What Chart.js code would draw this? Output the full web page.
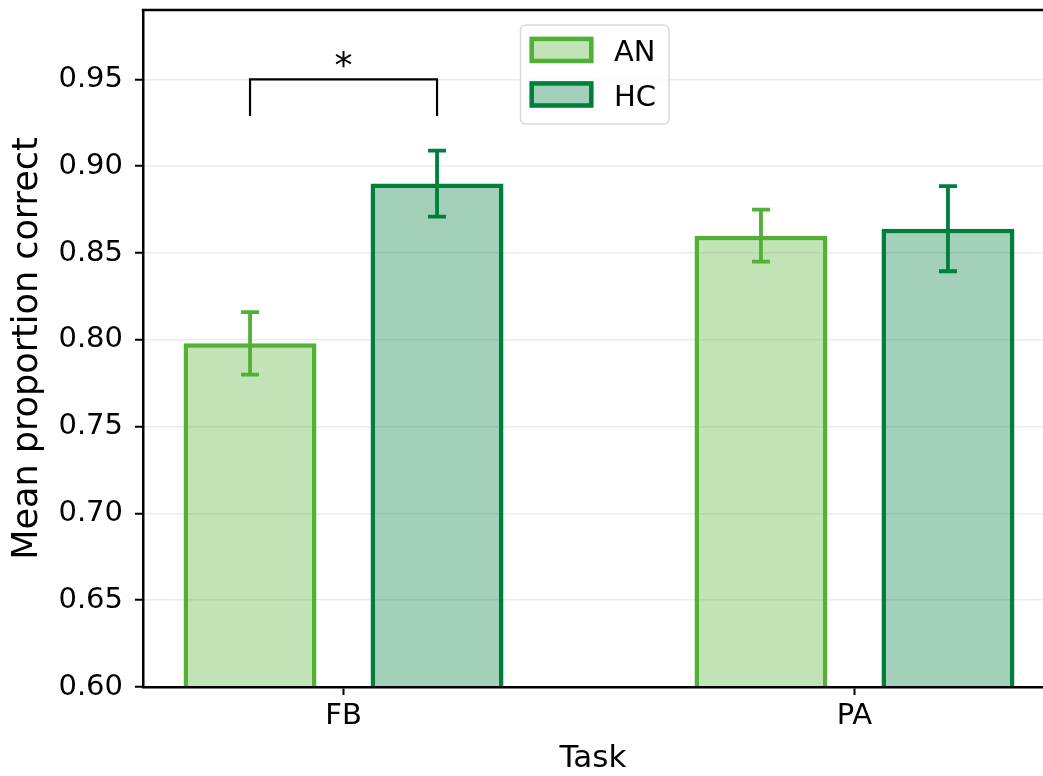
<!DOCTYPE html>
<html>
<head>
<meta charset="utf-8">
<script src="https://cdn.jsdelivr.net/npm/chart.js@4.4.1/dist/chart.umd.min.js"></script>
<style>
  html, body { margin: 0; padding: 0; background: #ffffff; overflow: hidden; }
  #wrap { width: 1043px; height: 776px; }
</style>
</head>
<body>
<div id="wrap"><canvas id="c" width="1043" height="776"></canvas></div>
<script>
// ---- Data ----
const categories = ['FB', 'PA'];
const groupNames = ['AN', 'HC'];
const anMeans  = [0.798, 0.860];
const anErrors = [0.018, 0.015];
const hcMeans  = [0.890, 0.864];
const hcErrors = [0.019, 0.0245];
const yTickValues = [0.60, 0.65, 0.70, 0.75, 0.80, 0.85, 0.90, 0.95];
const axisTitles = { x: 'Task', y: 'Mean proportion correct' };
// significance bracket (FB: AN vs HC)
const sigCategory = 0;
const sigTop = 0.95;
const sigLegBottom = 0.929;
const sigLabel = '*';

// ---- Styles ----
const FONT = 'DejaVu Sans';
const anBorder = 'rgb(82,177,52)';
const anFill = 'rgba(82,177,52,0.36)';
const hcBorder = 'rgb(0,126,60)';
const hcFill = 'rgba(0,126,60,0.365)';
const errorSets = [anErrors, hcErrors];

Chart.defaults.font.family = FONT;
Chart.defaults.color = '#000';

const toPoints = (arr) => categories.map((c, i) => ({ x: i, y: arr[i] }));

const errorBarPlugin = {
  id: 'errorBars',
  afterDatasetsDraw(chart) {
    const ctx = chart.ctx;
    const yScale = chart.scales.y;
    chart.data.datasets.forEach((ds, di) => {
      const meta = chart.getDatasetMeta(di);
      meta.data.forEach((el, i) => {
        const v = ds.data[i].y;
        const e = errorSets[di][i];
        const yT = yScale.getPixelForValue(v + e);
        const yB = yScale.getPixelForValue(v - e);
        const capHalf = 9;
        ctx.save();
        ctx.strokeStyle = ds.borderColor;
        ctx.lineWidth = 3.8;
        ctx.lineCap = 'butt';
        ctx.beginPath();
        ctx.moveTo(el.x, yT); ctx.lineTo(el.x, yB);
        ctx.moveTo(el.x - capHalf, yT); ctx.lineTo(el.x + capHalf, yT);
        ctx.moveTo(el.x - capHalf, yB); ctx.lineTo(el.x + capHalf, yB);
        ctx.stroke();
        ctx.restore();
      });
    });
  }
};

const annotPlugin = {
  id: 'annot',
  afterDraw(chart) {
    const ctx = chart.ctx;
    const ca = chart.chartArea;
    const yScale = chart.scales.y;
    // top spine
    ctx.save();
    ctx.strokeStyle = '#000';
    ctx.lineWidth = 2.5;
    ctx.beginPath();
    ctx.moveTo(ca.left - 1.25, ca.top);
    ctx.lineTo(ca.right, ca.top);
    ctx.stroke();

    // significance bracket
    const x1 = chart.getDatasetMeta(0).data[sigCategory].x;
    const x2 = chart.getDatasetMeta(1).data[sigCategory].x;
    const yTop = yScale.getPixelForValue(sigTop);
    const yLeg = yScale.getPixelForValue(sigLegBottom);
    ctx.lineWidth = 2.2;
    ctx.lineJoin = 'miter';
    ctx.beginPath();
    ctx.moveTo(x1, yLeg); ctx.lineTo(x1, yTop); ctx.lineTo(x2, yTop); ctx.lineTo(x2, yLeg);
    ctx.stroke();
    ctx.fillStyle = '#000';
    ctx.font = '36px "' + FONT + '"';
    ctx.textAlign = 'center';
    ctx.textBaseline = 'alphabetic';
    ctx.fillText(sigLabel, (x1 + x2) / 2, yTop - 2);

    // legend
    const bx = 520.5, by = 25, bw = 148.5, bh = 99;
    ctx.beginPath();
    ctx.roundRect(bx, by, bw, bh, 5);
    ctx.fillStyle = 'rgba(255,255,255,0.8)';
    ctx.fill();
    ctx.strokeStyle = '#d9d9d9';
    ctx.lineWidth = 1.5;
    ctx.stroke();
    chart.data.datasets.forEach((ds, i) => {
      const sy = 36.7 + i * 44.5;
      ctx.fillStyle = ds.backgroundColor;
      ctx.fillRect(529.5, sy, 64, 26.5);
      ctx.strokeStyle = ds.borderColor;
      ctx.lineWidth = 4.5;
      ctx.strokeRect(531.75, sy + 2.25, 59.5, 22);
      ctx.fillStyle = '#000';
      ctx.font = '29px "' + FONT + '"';
      ctx.textAlign = 'left';
      ctx.textBaseline = 'alphabetic';
      ctx.fillText(ds.label, 614, 61 + i * 45);
    });
    ctx.restore();
  }
};

function zeroPad(s) {
  s.paddingTop = 0; s.paddingBottom = 0; s.paddingLeft = 0; s.paddingRight = 0;
}

new Chart(document.getElementById('c'), {
  type: 'bar',
  data: {
    datasets: [
      { label: groupNames[0], data: toPoints(anMeans), backgroundColor: anFill, borderColor: anBorder, borderWidth: 4.5 },
      { label: groupNames[1], data: toPoints(hcMeans), backgroundColor: hcFill, borderColor: hcBorder, borderWidth: 4.5 }
    ]
  },
  options: {
    responsive: false,
    animation: false,
    devicePixelRatio: 1,
    categoryPercentage: 0.732,
    barPercentage: 0.711,
    layout: { padding: { top: 10, right: 0, left: 0, bottom: 0 } },
    plugins: { legend: { display: false }, tooltip: { enabled: false } },
    scales: {
      x: {
        type: 'linear',
        min: -0.3925,
        max: 1.369,
        offset: false,
        grid: { display: true, offset: false, drawOnChartArea: false, drawTicks: true, tickLength: 8, tickWidth: 2, tickColor: '#000' },
        border: { display: true, color: '#000', width: 2.5, z: 1 },
        afterBuildTicks: (s) => { s.ticks = categories.map((c, i) => ({ value: i })); },
        afterFit: (s) => { s.height = 89; zeroPad(s); },
        ticks: { autoSkip: false, maxRotation: 0, padding: 4, font: { size: 29 }, color: '#000',
                 callback: (v) => categories[v] !== undefined ? categories[v] : '' },
        title: { display: true, text: axisTitles.x, font: { size: 31, lineHeight: 1.1 }, color: '#000', padding: { top: 0, bottom: 0 } }
      },
      y: {
        min: 0.60,
        max: 0.99,
        grid: { color: '#ebebeb', lineWidth: 1.5, tickColor: '#000', tickWidth: 2, tickLength: 8 },
        border: { display: true, color: '#000', width: 2.5, z: 1 },
        afterBuildTicks: (s) => { s.ticks = yTickValues.map(v => ({ value: v })); },
        afterFit: (s) => { s.width = 143; zeroPad(s); },
        ticks: { padding: 12, font: { size: 29 }, color: '#000', callback: (v) => v.toFixed(2) },
        title: { display: true, text: axisTitles.y, font: { size: 35 }, color: '#000', padding: { top: 7, bottom: 0 } }
      }
    }
  },
  plugins: [errorBarPlugin, annotPlugin]
});
</script>
</body>
</html>
